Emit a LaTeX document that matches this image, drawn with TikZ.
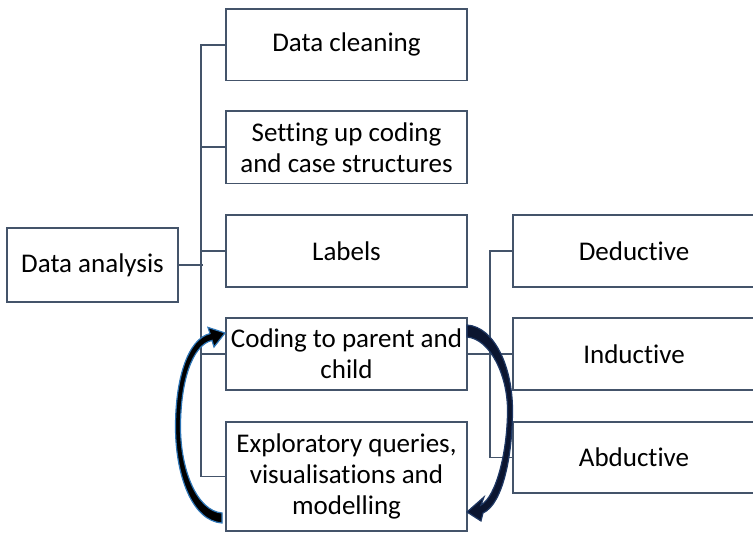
\documentclass[tikz,border=0pt]{standalone}
\usepackage{fontspec}
\setmainfont{Carlito}[Ligatures=NoCommon]
\definecolor{boxline}{HTML}{44546A}
\definecolor{lblue}{HTML}{2E75B6}
\definecolor{navy}{HTML}{1F3864}
\definecolor{navyfill}{HTML}{0B1530}
\begin{document}
\begin{tikzpicture}[x=1pt,y=-1pt,
  box/.style={draw=boxline,line width=1.7pt,fill=white,rectangle,inner sep=0pt,align=center,
    font=\fontsize{27}{31}\selectfont},
  conn/.style={draw=boxline,line width=1.7pt}]
\useasboundingbox (0,0) rectangle (753,533);
\clip (0,0) rectangle (753,533);
\node[box,minimum width=171pt,minimum height=74pt] (da) at (92.5,265) {Data analysis};
\node[box,minimum width=241pt,minimum height=71.5pt] (dc) at (346.5,44.75) {Data cleaning};
\node[box,minimum width=241pt,minimum height=72.5pt] (su) at (346.5,147.25) {Setting up coding\\and case structures};
\node[box,minimum width=241pt,minimum height=72pt] (lb) at (346.5,251) {Labels};
\node[box,minimum width=241pt,minimum height=72pt] (cp) at (346.5,354) {Coding to parent and\\child};
\node[box,minimum width=241pt,minimum height=109pt] (ex) at (346.5,476.5) {Exploratory queries,\\visualisations and\\modelling};
\node[box,minimum width=242pt,minimum height=72pt] (de) at (634,251) {Deductive};
\node[box,minimum width=242pt,minimum height=72pt] (in) at (634,354) {Inductive};
\node[box,minimum width=242pt,minimum height=71pt] (ab) at (634,457.5) {Abductive};
% connectors
\draw[conn] (da.east) -- ++(24,0);
\draw[conn] (dc.west) -- ++(-24,0) |- (ex.west);
\draw[conn] (su.west) -- ++(-24,0);
\draw[conn] (lb.west) -- ++(-24,0);
\draw[conn] (cp.west) -- ++(-24,0);
\draw[conn] (de.west) -- ++(-22,0) |- (ab.west);
\draw[conn] (cp.east) -- (in.west);
% left curved arrow
\fill[black,draw=lblue,line width=1.2pt,line join=miter]
  (222,523) .. controls (192,521) and (175.5,475) .. (175.5,427)
  .. controls (175.5,378) and (188,339) .. (210,333.6)
  -- (208,327.4) -- (225,333) -- (214,347) -- (212,340.4)
  .. controls (192,345) and (180.5,382) .. (180.5,427)
  .. controls (180.5,470) and (197,511) .. (222,513) -- cycle;
% right curved arrow
\fill[navyfill,draw=navy,line width=1.2pt,line join=miter]
  (467,325) .. controls (495,327) and (512.5,368) .. (512.5,410)
  .. controls (512.5,455) and (503,504) .. (483,513)
  -- (481,521) -- (467,512) -- (484,497) -- (481,505)
  .. controls (496,497) and (507.5,452) .. (507.5,410)
  .. controls (507.5,375) and (490,339) .. (467,337) -- cycle;
\end{tikzpicture}
\end{document}
